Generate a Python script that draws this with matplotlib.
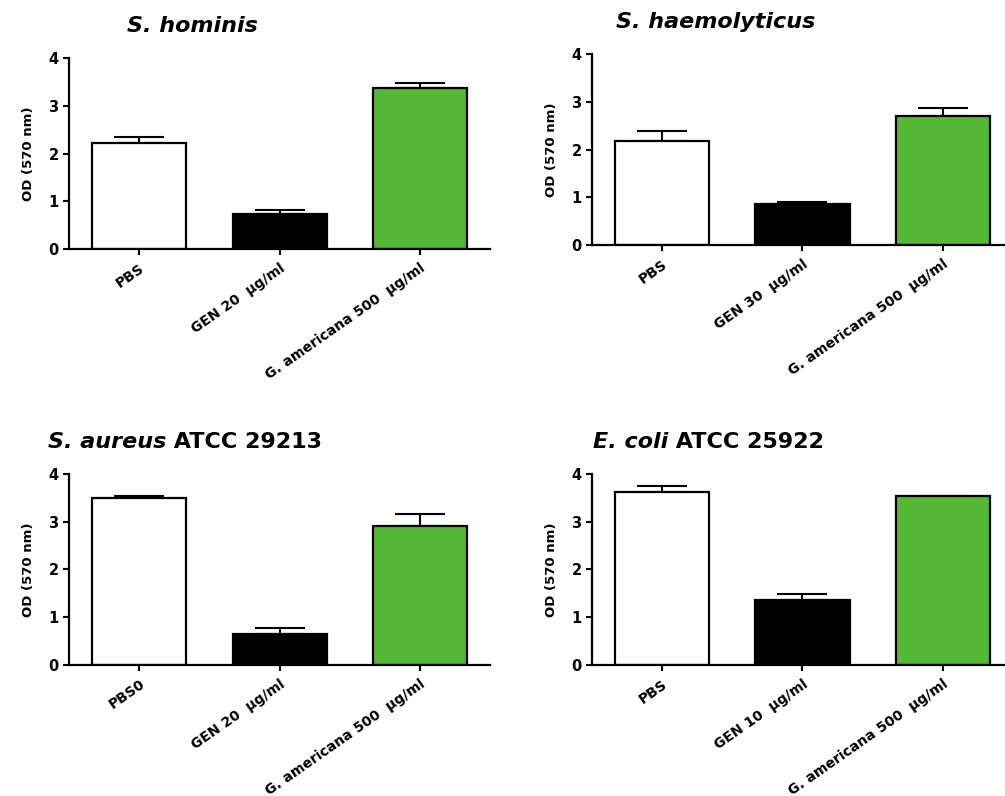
import numpy as np
import matplotlib
matplotlib.use('Agg')
import matplotlib.pyplot as plt

plt.rcParams['font.family'] = ['DejaVu Sans']
plt.rcParams['font.weight'] = 'bold'

# one entry per panel: top-left, top-right, bottom-left, bottom-right
titles_it = ['S. hominis', 'S. haemolyticus', 'S. aureus', 'E. coli']
titles_rest = ['', '', ' ATCC 29213', ' ATCC 25922']
xlabels = [
    ['PBS', 'GEN 20  µg/ml', 'G. americana 500  µg/ml'],
    ['PBS', 'GEN 30  µg/ml', 'G. americana 500  µg/ml'],
    ['PBS0', 'GEN 20  µg/ml', 'G. americana 500  µg/ml'],
    ['PBS', 'GEN 10  µg/ml', 'G. americana 500  µg/ml'],
]
pbs = [2.22, 2.18, 3.50, 3.62]
pbs_err = [0.13, 0.20, 0.04, 0.13]
gen = [0.74, 0.87, 0.65, 1.36]
gen_err = [0.08, 0.04, 0.12, 0.12]
ga = [3.38, 2.71, 2.92, 3.53]
ga_err = [0.09, 0.17, 0.24, 0.0]

bar_colors = ['white', 'black', '#55b837']

fig = plt.figure(figsize=(10.05, 7.96), dpi=100)
rects = [
    [0.0687, 0.687, 0.419, 0.240],
    [0.589, 0.692, 0.419, 0.240],
    [0.0687, 0.1646, 0.419, 0.240],
    [0.589, 0.1646, 0.419, 0.240],
]

for i, r in enumerate(rects):
    ax = fig.add_axes(r)
    vals = [pbs[i], gen[i], ga[i]]
    errs = [pbs_err[i], gen_err[i], ga_err[i]]
    x = np.arange(3)
    ax.errorbar(x, vals, yerr=[[0, 0, 0], errs], fmt='none', ecolor='black',
                elinewidth=1.5, capsize=18, capthick=1.5, zorder=1)
    ax.bar(x, vals, width=0.67, color=bar_colors, edgecolor='black',
           linewidth=1.6, zorder=2)
    ax.set_xlim(-0.5, 2.5)
    ax.set_ylim(0, 4)
    ax.set_yticks([0, 1, 2, 3, 4])
    ax.set_xticks(x)
    ax.set_xticklabels(xlabels[i], rotation=35, ha='right', va='top',
                       rotation_mode='anchor', fontsize=10, fontweight='bold')
    for sp in ['top', 'right']:
        ax.spines[sp].set_visible(False)
    for sp in ['left', 'bottom']:
        ax.spines[sp].set_linewidth(1.6)
    ax.tick_params(axis='both', length=4.5, width=1.5, direction='out')
    ax.tick_params(axis='y', labelsize=10.5, pad=3)
    ax.tick_params(axis='x', pad=4)
    for lab in ax.get_yticklabels():
        lab.set_fontweight('bold')
    ax.set_ylabel('OD (570 nm)', fontsize=9.5, fontweight='bold')
    ax.yaxis.set_label_coords(-0.08, 0.5)

    # titles: italic species name, then upright strain
    if titles_rest[i]:
        x0 = -0.05 if i == 2 else 0.002
        t1 = ax.text(x0, 1.165, titles_it[i], transform=ax.transAxes,
                     fontsize=16, fontweight='bold', style='italic',
                     ha='left', va='center')
        ax.annotate(titles_rest[i], xy=(1, 0), xycoords=t1, fontsize=16,
                    fontweight='bold', ha='left', va='bottom')
    else:
        ax.text(0.293, 1.17, titles_it[i], transform=ax.transAxes,
                fontsize=16, fontweight='bold', style='italic',
                ha='center', va='center')

fig.savefig('out.png', dpi=100)
